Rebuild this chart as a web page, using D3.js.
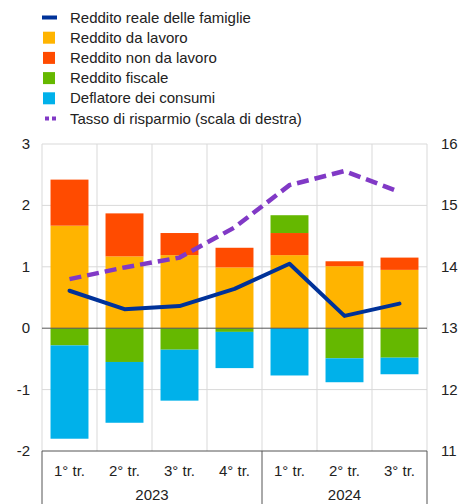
<!DOCTYPE html>
<html>
<head>
<meta charset="utf-8">
<script src="https://cdn.jsdelivr.net/npm/d3@7"></script>
<style>
body { margin: 0; background: #fff; }
text { font-family: "Liberation Sans", Arial, sans-serif; font-size: 15px; fill: #222; }
</style>
</head>
<body>
<div id="chartDiv"></div>
<script>
var width = 458;
var height = 504;

// data
var quarters = ["1° tr.", "2° tr.", "3° tr.", "4° tr.", "1° tr.", "2° tr.", "3° tr."];
var years = ["2023", "2023", "2023", "2023", "2024", "2024", "2024"];
var lavoro = [1.67, 1.17, 1.19, 0.99, 1.19, 1.01, 0.95];
var nonLavoro = [0.75, 0.70, 0.36, 0.32, 0.36, 0.08, 0.20];
var fiscale = [-0.28, -0.55, -0.35, -0.06, 0.29, -0.49, -0.48];
var deflatore = [-1.52, -0.99, -0.83, -0.59, -0.77, -0.39, -0.27];
var reale = [0.61, 0.31, 0.36, 0.64, 1.05, 0.20, 0.40];
var risparmio = [13.80, 13.99, 14.15, 14.64, 15.33, 15.56, 15.22];
var leftTicks = [-2, -1, 0, 1, 2, 3];
var rightTicks = [11, 12, 13, 14, 15, 16];

var keys = ["lavoro", "nonLavoro", "fiscale", "deflatore"];
var colors = { lavoro: "#ffb400", nonLavoro: "#ff4b00", fiscale: "#65b800", deflatore: "#00b1ea" };

var legendItems = [
    { label: "Reddito reale delle famiglie", type: "line", color: "#003299" },
    { label: "Reddito da lavoro", type: "box", color: colors.lavoro },
    { label: "Reddito non da lavoro", type: "box", color: colors.nonLavoro },
    { label: "Reddito fiscale", type: "box", color: colors.fiscale },
    { label: "Deflatore dei consumi", type: "box", color: colors.deflatore },
    { label: "Tasso di risparmio (scala di destra)", type: "dash", color: "#8139c6" }
];

var plot = { left: 42, right: 427, top: 144, bottom: 451 };

var rows = quarters.map(function(q, i) {
    return { i: i, lavoro: lavoro[i], nonLavoro: nonLavoro[i], fiscale: fiscale[i], deflatore: deflatore[i] };
});

var x = d3.scaleBand().domain(d3.range(quarters.length)).range([plot.left, plot.right]).padding(0);
var y = d3.scaleLinear().domain([-2, 3]).range([plot.bottom, plot.top]);
var y2 = d3.scaleLinear().domain([11, 16]).range([plot.bottom, plot.top]);

var chart = d3.select("#chartDiv").append("svg")
    .attr("width", width)
    .attr("height", height);

// grid
chart.append("g").selectAll("line.h")
    .data(leftTicks.filter(function(d) { return d !== 0 && d !== -2; }))
    .enter().append("line")
    .attr("x1", plot.left).attr("x2", plot.right)
    .attr("y1", function(d) { return y(d); }).attr("y2", function(d) { return y(d); })
    .attr("stroke", "#d9d9d9").attr("stroke-width", 1);

chart.append("g").selectAll("line.v")
    .data(d3.range(quarters.length + 1))
    .enter().append("line")
    .attr("x1", function(d) { return plot.left + d * x.bandwidth(); })
    .attr("x2", function(d) { return plot.left + d * x.bandwidth(); })
    .attr("y1", plot.top).attr("y2", plot.bottom)
    .attr("stroke", "#d9d9d9").attr("stroke-width", 1);

// stacked bars
var series = d3.stack().keys(keys).offset(d3.stackOffsetDiverging)(rows);
var barW = x.bandwidth() * 0.69;

chart.append("g").selectAll("g")
    .data(series)
    .enter().append("g")
    .attr("fill", function(d) { return colors[d.key]; })
    .selectAll("rect")
    .data(function(d) { return d; })
    .enter().append("rect")
    .attr("x", function(d) { return x(d.data.i) + (x.bandwidth() - barW) / 2; })
    .attr("width", barW)
    .attr("y", function(d) { return y(Math.max(d[0], d[1])); })
    .attr("height", function(d) { return Math.abs(y(d[0]) - y(d[1])); });

// zero line and x axis
chart.append("line")
    .attr("x1", plot.left).attr("x2", plot.right)
    .attr("y1", y(0)).attr("y2", y(0))
    .attr("stroke", "#555").attr("stroke-width", 1);

chart.append("line")
    .attr("x1", plot.left).attr("x2", plot.right)
    .attr("y1", y(-2)).attr("y2", y(-2))
    .attr("stroke", "#555").attr("stroke-width", 1);

// year separators
var sepIdx = [0, 4, 7];
chart.append("g").selectAll("line")
    .data(sepIdx)
    .enter().append("line")
    .attr("x1", function(d) { return plot.left + d * x.bandwidth(); })
    .attr("x2", function(d) { return plot.left + d * x.bandwidth(); })
    .attr("y1", plot.bottom).attr("y2", height)
    .attr("stroke", "#555").attr("stroke-width", 1);

// lines
var cx = function(d, i) { return x(i) + x.bandwidth() / 2; };

chart.append("path")
    .datum(risparmio)
    .attr("fill", "none")
    .attr("stroke", "#8139c6")
    .attr("stroke-width", 4.5)
    .attr("stroke-dasharray", "12,6")
    .attr("d", d3.line().x(cx).y(function(d) { return y2(d); }));

chart.append("path")
    .datum(reale)
    .attr("fill", "none")
    .attr("stroke", "#003299")
    .attr("stroke-width", 4)
    .attr("stroke-linejoin", "round")
    .attr("stroke-linecap", "round")
    .attr("d", d3.line().x(cx).y(function(d) { return y(d); }));

// axes labels
chart.append("g").selectAll("text")
    .data(leftTicks)
    .enter().append("text")
    .attr("x", 30)
    .attr("y", function(d) { return y(d) + 5; })
    .attr("text-anchor", "end")
    .text(function(d) { return d; });

chart.append("g").selectAll("text")
    .data(rightTicks)
    .enter().append("text")
    .attr("x", 441)
    .attr("y", function(d) { return y2(d) + 5; })
    .text(function(d) { return d; });

chart.append("g").selectAll("text")
    .data(quarters)
    .enter().append("text")
    .attr("x", cx)
    .attr("y", 476)
    .attr("text-anchor", "middle")
    .text(function(d) { return d; });

var yearGroups = d3.groups(years.map(function(yr, i) { return { yr: yr, i: i }; }), function(d) { return d.yr; });
chart.append("g").selectAll("text")
    .data(yearGroups)
    .enter().append("text")
    .attr("x", function(g) {
        var a = g[1][0].i, b = g[1][g[1].length - 1].i;
        return (x(a) + x(b) + x.bandwidth()) / 2;
    })
    .attr("y", 500)
    .attr("text-anchor", "middle")
    .text(function(g) { return g[0]; });

// legend
var legend = chart.append("g").selectAll("g")
    .data(legendItems)
    .enter().append("g")
    .attr("transform", function(d, i) { return "translate(0," + (17.5 + i * 20.2) + ")"; });

legend.each(function(d) {
    var g = d3.select(this);
    if (d.type === "line") {
        g.append("rect").attr("x", 42).attr("y", -2).attr("width", 15).attr("height", 4).attr("fill", d.color);
    } else if (d.type === "box") {
        g.append("rect").attr("x", 43).attr("y", -6).attr("width", 12).attr("height", 12).attr("fill", d.color);
    } else {
        g.append("rect").attr("x", 45).attr("y", -2).attr("width", 4).attr("height", 4).attr("fill", d.color);
        g.append("rect").attr("x", 52).attr("y", -2).attr("width", 4).attr("height", 4).attr("fill", d.color);
    }
    g.append("text").attr("x", 70).attr("y", 5).text(d.label);
});
</script>
</body>
</html>
